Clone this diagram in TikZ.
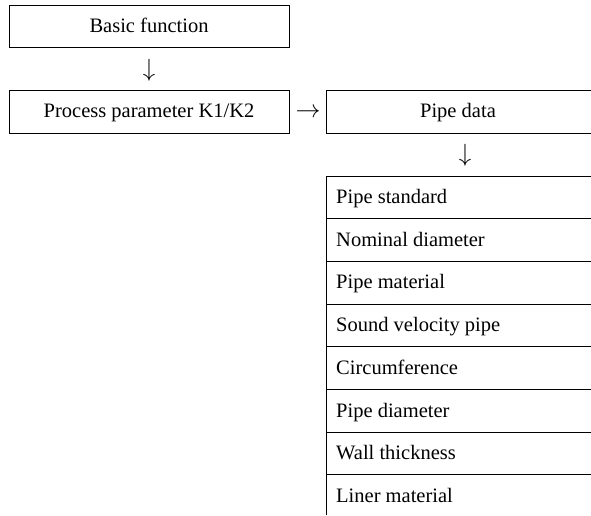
\documentclass[tikz,border=0pt]{standalone}
\usepackage{fontspec}
\setmainfont{Liberation Serif}
\begin{document}
\begin{tikzpicture}[x=1pt,y=-1pt,
  lbl/.style={font=\fontsize{20.5}{24}\selectfont, text=black, text height=16pt, text depth=4pt},
  box/.style={draw, line width=0.9pt, lbl, inner sep=0pt, minimum height=43pt},
  row/.style={lbl, anchor=west, inner sep=0pt},
  sep/.style={line width=0.9pt},
  arr/.style={font=\fontsize{23}{26}\selectfont, inner sep=0pt}]
\useasboundingbox (0,0) rectangle (591,515);
\node[box, minimum width=280pt, minimum height=42pt] (basic) at (149,26) {Basic function};
\node[arr] (a1) at (149,70) {$\downarrow$};
\node[box, minimum width=280pt] (proc) at (149,111.5) {Process parameter K1/K2};
\node[arr] (a2) at (308,113) {$\rightarrow$};
\node[box, minimum width=270pt] (pipe) at (461,111.5) {\hspace*{-6pt}Pipe data};
\node[arr] (a3) at (465,155) {$\downarrow$};
\coordinate (ltop) at (326,176);
\coordinate (lbot) at (326,515);
\draw[sep] (ltop) -- (lbot);
\foreach \i/\t in {0/Pipe standard,1/Nominal diameter,2/Pipe material,3/Sound velocity pipe,4/Circumference,5/Pipe diameter,6/Wall thickness,7/Liner material}{
  \coordinate (s\i) at (326,{176+42.7*\i});
  \coordinate (e\i) at (592,{176+42.7*\i});
  \draw[sep] (s\i) -- (e\i);
  \node[row] (r\i) at (336,{197.5+42.7*\i}) {\t};
}
\end{tikzpicture}
\end{document}
